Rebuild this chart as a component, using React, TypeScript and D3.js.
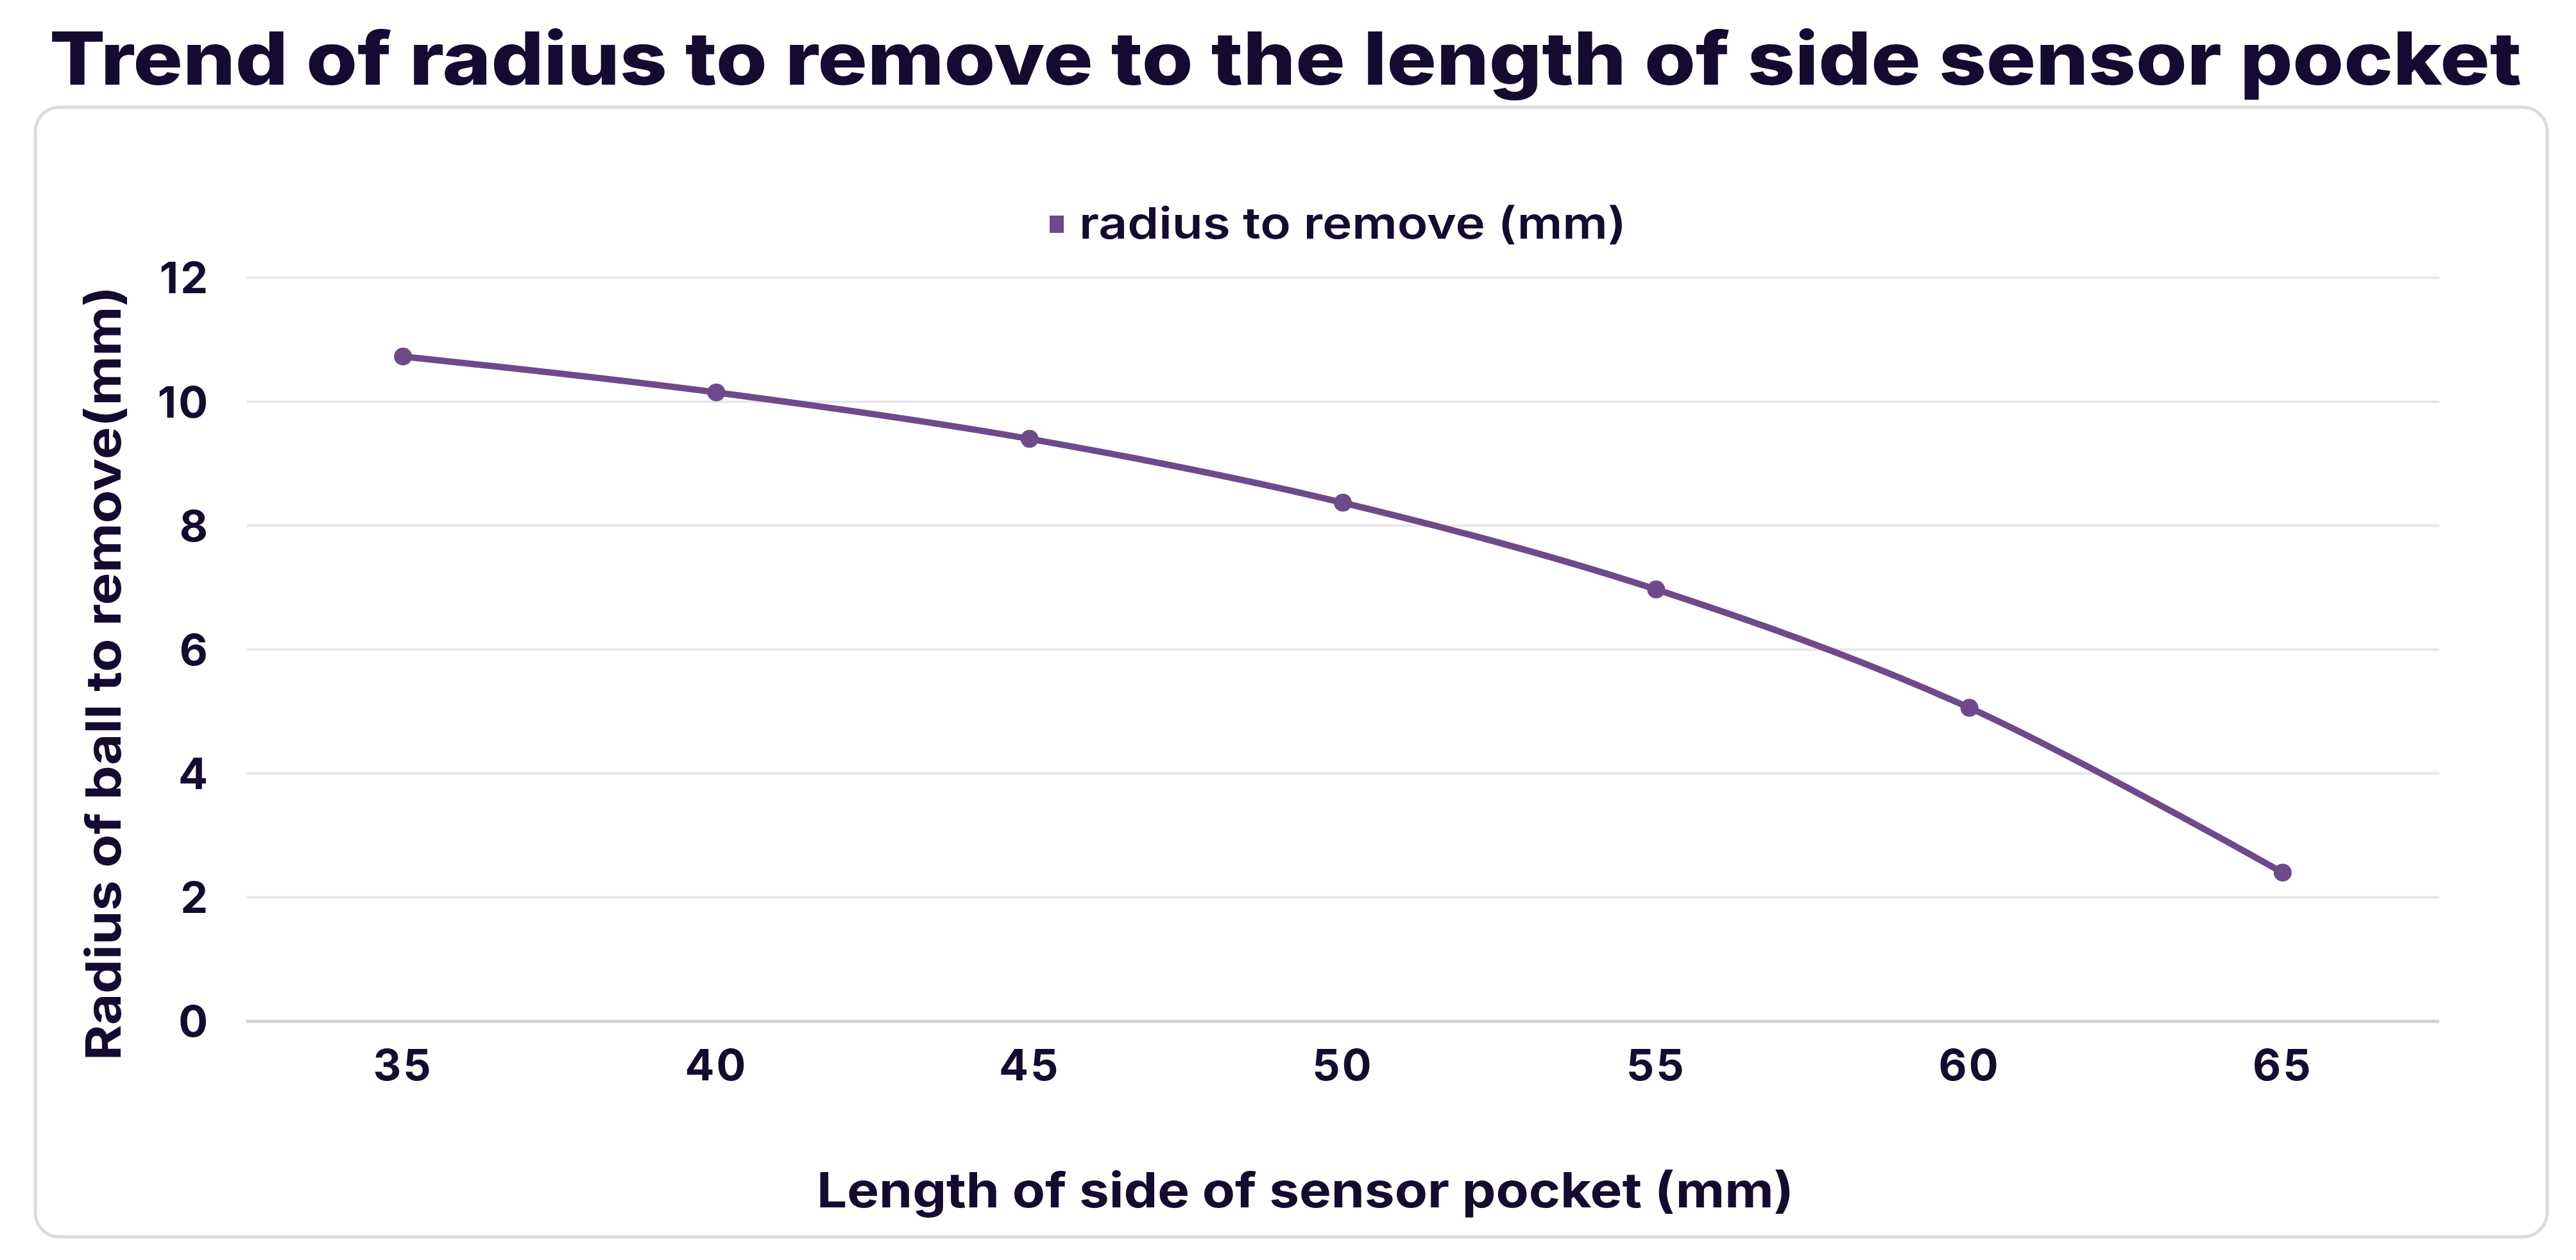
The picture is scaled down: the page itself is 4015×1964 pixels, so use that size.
import React, { useEffect } from 'react'
import * as d3 from 'd3'

const width = 4015
const height = 1964
const margin = { top: 433, right: 213, bottom: 372, left: 384 }

// data
const pocketLength = ['35', '40', '45', '50', '55', '60', '65']
const radiusToRemove = [10.73, 10.15, 9.4, 8.37, 6.97, 5.06, 2.4]
const yTicks = [0, 2, 4, 6, 8, 10, 12]

const title = 'Trend of radius to remove to the length of side sensor pocket'
const seriesName = 'radius to remove (mm)'
const xTitle = 'Length of side of sensor pocket (mm)'
const yTitle = 'Radius of ball to remove(mm)'

const purple = '#6f4a8b'
const ink = '#150b30'
const font = 'Inter, "Open Sans", sans-serif'

const xScale = d3
    .scaleBand()
    .domain(pocketLength)
    .range([margin.left, width - margin.right])

const yScale = d3
    .scaleLinear()
    .domain([0, 12])
    .range([height - margin.bottom, margin.top])

const points = pocketLength.map((k, i) => ({ k, v: radiusToRemove[i] }))

const cx = (k) => xScale(k) + xScale.bandwidth() / 2

const trend = d3
    .line()
    .x((d) => cx(d.k))
    .y((d) => yScale(d.v))
    .curve(d3.curveCardinal.tension(0))

const App = () => {
    useEffect(() => {
        document.body.style.margin = '0'
    }, [])

    const bottom = yScale(0)
    const x0 = margin.left
    const x1 = width - margin.right

    return (
        <svg width={width} height={height} style={{ display: 'block', background: '#fff' }}>
            {/* poppins-like width is forced with textLength */}
            <text
                x={77}
                y={132}
                textLength={3853}
                lengthAdjust="spacingAndGlyphs"
                fontFamily={font}
                fontWeight={800}
                fontSize={114}
                fill={ink}
            >
                {title}
            </text>

            {/* card */}
            <rect
                x={55}
                y={167}
                width={3915}
                height={1761}
                rx={38}
                fill="#fff"
                stroke="#dcdcdc"
                strokeWidth={5}
            />

            {/* legend */}
            <rect x={1636} y={336} width={22} height={27} fill={purple} />
            <text
                x={1682}
                y={372}
                textLength={853}
                lengthAdjust="spacingAndGlyphs"
                fontFamily={font}
                fontWeight={600}
                fontSize={68}
                fill={ink}
            >
                {seriesName}
            </text>

            {/* grid */}
            {yTicks.map((t) => (
                <g key={t}>
                    <line
                        x1={x0}
                        x2={x1}
                        y1={yScale(t)}
                        y2={yScale(t)}
                        stroke={t === 0 ? '#cfcfd6' : '#e8e8ec'}
                        strokeWidth={t === 0 ? 5 : 4}
                    />
                    <text
                        x={327}
                        y={yScale(t)}
                        dy="0.36em"
                        textAnchor="end"
                        fontFamily={font}
                        fontWeight={700}
                        fontSize={68}
                        letterSpacing={3}
                        fill={ink}
                    >
                        {t}
                    </text>
                </g>
            ))}

            {/* x ticks */}
            {pocketLength.map((k) => (
                <text
                    key={k}
                    x={cx(k)}
                    y={bottom + 92}
                    textAnchor="middle"
                    fontFamily={font}
                    fontWeight={700}
                    fontSize={68}
                    letterSpacing={3}
                    fill={ink}
                >
                    {k}
                </text>
            ))}

            {/* series */}
            <path d={trend(points)} fill="none" stroke={purple} strokeWidth={10} />
            {points.map((d) => (
                <circle key={d.k} cx={cx(d.k)} cy={yScale(d.v)} r={14} fill={purple} />
            ))}

            {/* axis titles */}
            <text
                x={1273}
                y={1882}
                textLength={1523}
                lengthAdjust="spacingAndGlyphs"
                fontFamily={font}
                fontWeight={700}
                fontSize={76}
                fill={ink}
            >
                {xTitle}
            </text>
            <text
                transform={`translate(188, 1653) rotate(-90)`}
                textLength={1207}
                lengthAdjust="spacingAndGlyphs"
                fontFamily={font}
                fontWeight={700}
                fontSize={76}
                fill={ink}
            >
                {yTitle}
            </text>
        </svg>
    )
}

export default App
